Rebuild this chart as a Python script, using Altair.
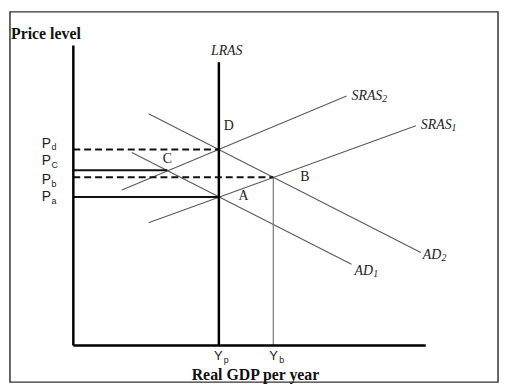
import altair as alt
import pandas as pd

# Economic coordinates: origin at the corner of the two axes (units ~ pixels)
# Curves (two end points each)
curve_names = ["SRAS1", "SRAS2", "AD1", "AD2"]
curve_x0 = [76, 49, 59, 76]
curve_y0 = [124, 157, 195, 234]
curve_x1 = [346, 276, 281, 351]
curve_y1 = [222, 252, 82, 94]

# Key levels
y_p, y_b = 147, 202          # potential GDP, GDP at B
p_a, p_b, p_c, p_d = 150, 170, 177, 198
c_x = 95                      # x of point C
axis_top, axis_right, lras_top = 303, 356, 286

# Thick black lines: axes and LRAS
thick = pd.DataFrame({
    "x": [0, 0, y_p], "y": [0, 0, 0],
    "x2": [0, axis_right, y_p], "y2": [axis_top, 0, lras_top],
})
# Gray vertical at Yb
yb_line = pd.DataFrame({"x": [y_b], "y": [0], "x2": [y_b], "y2": [p_b]})
# Dashed price levels
dashed = pd.DataFrame({"x": [0, 0], "y": [p_d, p_b], "x2": [y_p, y_b], "y2": [p_d, p_b]})
# Solid price levels
solid = pd.DataFrame({"x": [0, 0], "y": [p_c, p_a], "x2": [c_x, y_p], "y2": [p_c, p_a]})
curves = pd.DataFrame({"name": curve_names, "x": curve_x0, "y": curve_y0,
                       "x2": curve_x1, "y2": curve_y1})

# Labels
curve_lab = pd.DataFrame({"t": ["LRAS", "SRAS", "SRAS", "AD", "AD"],
                          "x": [139, 281, 351, 353, 284],
                          "y": [297, 252, 223, 91, 75]})
curve_sub = pd.DataFrame({"t": ["2", "1", "2", "1"],
                          "x": [312, 382, 372, 303],
                          "y": [249, 220, 88, 72]})
point_lab = pd.DataFrame({"t": ["D", "C", "B", "A"],
                          "x": [157, 95, 234, 172],
                          "y": [222, 188, 170, 151]})
p_lab = pd.DataFrame({"t": ["P", "P", "P", "P"],
                      "x": [-32, -32, -32, -32],
                      "y": [204, 186, 167, 150]})
p_sub = pd.DataFrame({"t": ["d", "C", "b", "a"],
                      "x": [-22, -22, -22, -22],
                      "y": [200, 182, 163, 146]})
y_lab = pd.DataFrame({"t": ["Y", "Y"], "x": [142, 198], "y": [-11, -11]})
y_sub = pd.DataFrame({"t": ["p", "b"], "x": [152, 208], "y": [-15, -15]})
titles = pd.DataFrame({"t": ["Price level", "Real GDP per year"],
                       "x": [-63, 184], "y": [310, -35]})

xs = alt.Scale(domain=[-64, 429], nice=False, zero=False)
ys = alt.Scale(domain=[-37, 337], nice=False, zero=False)

def enc_rule():
    return dict(x=alt.X("x:Q", scale=xs, axis=None),
                y=alt.Y("y:Q", scale=ys, axis=None),
                x2="x2:Q", y2="y2:Q")

def enc_text():
    return dict(x=alt.X("x:Q", scale=xs, axis=None),
                y=alt.Y("y:Q", scale=ys, axis=None),
                text="t:N")

layers = [
    alt.Chart(curves).mark_rule(color="#5a5a5a", strokeWidth=1.1).encode(**enc_rule()),
    alt.Chart(yb_line).mark_rule(color="#777777", strokeWidth=1.2).encode(**enc_rule()),
    alt.Chart(dashed).mark_rule(color="#111111", strokeWidth=2, strokeDash=[7, 4]).encode(**enc_rule()),
    alt.Chart(solid).mark_rule(color="#111111", strokeWidth=2).encode(**enc_rule()),
    alt.Chart(thick).mark_rule(color="#000000", strokeWidth=2.5).encode(**enc_rule()),
    alt.Chart(curve_lab).mark_text(font="Liberation Serif", fontStyle="italic", fontSize=14,
                                   align="left", baseline="middle", color="#222222").encode(**enc_text()),
    alt.Chart(curve_sub).mark_text(font="Liberation Serif", fontStyle="italic", fontSize=10,
                                   align="left", baseline="middle", color="#222222").encode(**enc_text()),
    alt.Chart(point_lab).mark_text(font="Liberation Serif", fontSize=14,
                                   align="center", baseline="middle", color="#222222").encode(**enc_text()),
    alt.Chart(p_lab).mark_text(font="Liberation Sans", fontSize=14,
                               align="left", baseline="middle", color="#222222").encode(**enc_text()),
    alt.Chart(p_sub).mark_text(font="Liberation Sans", fontSize=9,
                               align="left", baseline="middle", color="#222222").encode(**enc_text()),
    alt.Chart(y_lab).mark_text(font="Liberation Sans", fontSize=13,
                               align="left", baseline="middle", color="#222222").encode(**enc_text()),
    alt.Chart(y_sub).mark_text(font="Liberation Sans", fontSize=9,
                               align="left", baseline="middle", color="#222222").encode(**enc_text()),
    alt.Chart(titles.iloc[[0]]).mark_text(font="Liberation Serif", fontWeight="bold", fontSize=16,
                                          align="left", baseline="alphabetic", color="#111111").encode(**enc_text()),
    alt.Chart(titles.iloc[[1]]).mark_text(font="Liberation Serif", fontWeight="bold", fontSize=16,
                                          align="center", baseline="alphabetic", color="#111111").encode(**enc_text()),
]

chart = alt.layer(*layers).properties(
    width=493, height=374, padding=2, autosize="none", background="white"
).configure_view(stroke="#333333", strokeWidth=1.5)

chart.save("out.html", embed_options={"renderer": "svg", "actions": False})
